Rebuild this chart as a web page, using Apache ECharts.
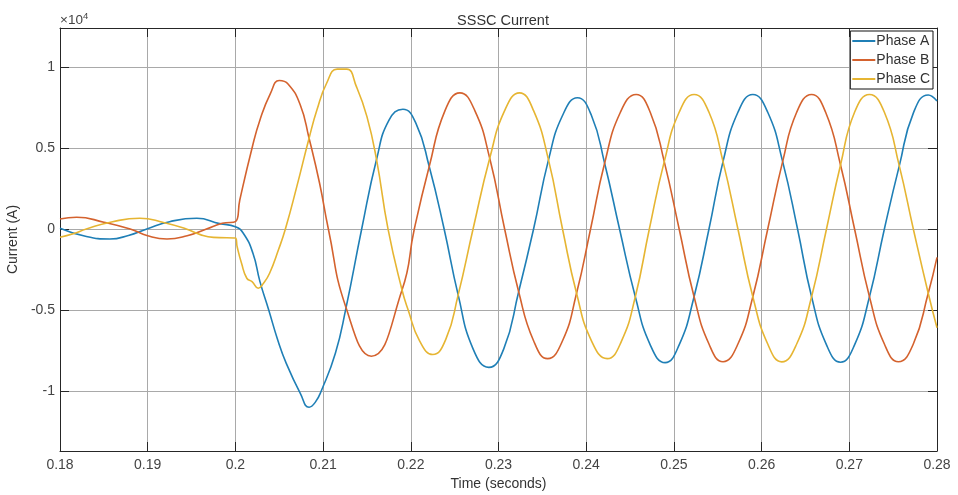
<!DOCTYPE html>
<html>
<head>
<meta charset="utf-8">
<script src="https://cdn.jsdelivr.net/npm/echarts@6/dist/echarts.min.js"></script>
<style>
html,body{margin:0;padding:0;background:#fff;}
#chart{width:958px;height:495px;}
</style>
</head>
<body>
<div id="chart"></div>
<script>
// ---- data (time in seconds, current in A) ----
const xTicks = [0.18,0.19,0.2,0.21,0.22,0.23,0.24,0.25,0.26,0.27,0.28];
const yTicks = [-10000,-5000,0,5000,10000];

const phaseA_t = [0.1800,0.1829,0.1857,0.1878,0.1899,0.1925,0.1956,0.1982,0.2000,0.2009,0.2020,0.2028,0.2038,0.2048,0.2058,0.2074,0.2084,0.2091,0.2098,0.2114,0.2126,0.2144,0.2161,0.2175,0.2191,0.2206,0.2221,0.2238,0.2254,0.2271,0.2289,0.2306,0.2323,0.2340,0.2357,0.2373,0.2390,0.2406,0.2421,0.2438,0.2456,0.2473,0.2490,0.2506,0.2523,0.2540,0.2556,0.2573,0.2590,0.2607,0.2624,0.2641,0.2657,0.2674,0.2690,0.2706,0.2723,0.2740,0.2757,0.2773,0.2790,0.2800];
const phaseA_i = [50,-450,-620,-400,0,450,660,330,140,-265,-1500,-3250,-5000,-6800,-8290,-10140,-11000,-10700,-9980,-7670,-4900,0,4300,6700,7390,6500,3850,0,-4070,-7400,-8540,-7400,-3870,0,4260,7000,8100,7000,4055,0,-4180,-7150,-8250,-7150,-4180,0,4155,7200,8300,7200,4155,0,-4180,-7150,-8220,-7150,-4180,0,3890,7150,8270,7900];

const phaseB_t = [0.1800,0.1819,0.1850,0.1880,0.1900,0.1922,0.1945,0.1967,0.1985,0.2000,0.2005,0.2019,0.2028,0.2040,0.2050,0.2060,0.2074,0.2084,0.2096,0.2106,0.2126,0.2155,0.2190,0.2204,0.2221,0.2239,0.2256,0.2273,0.2290,0.2307,0.2323,0.2340,0.2356,0.2373,0.2389,0.2405,0.2421,0.2439,0.2457,0.2473,0.2489,0.2506,0.2523,0.2540,0.2556,0.2573,0.2590,0.2607,0.2624,0.2640,0.2657,0.2673,0.2690,0.2706,0.2723,0.2740,0.2756,0.2773,0.2790,0.2800];
const phaseB_i = [620,720,420,0,-420,-620,-420,0,350,450,1790,5000,6730,8370,9160,8950,7650,5600,2820,0,-4830,-7850,-3770,0,3850,7300,8400,7300,4360,0,-3870,-6900,-8000,-6900,-3970,0,4055,7200,8300,7200,4155,0,-4180,-7100,-8190,-7100,-4180,0,4155,7200,8300,7200,3950,0,-4180,-7100,-8190,-7100,-3970,-1750];

const phaseC_t = [0.1800,0.1815,0.1830,0.1860,0.1891,0.1918,0.1944,0.1960,0.1975,0.2000,0.2002,0.2007,0.2013,0.2019,0.2026,0.2032,0.2039,0.2049,0.2057,0.2070,0.2084,0.2093,0.2104,0.2116,0.2127,0.2138,0.2150,0.2161,0.2174,0.2190,0.2197,0.2210,0.2225,0.2240,0.2254,0.2271,0.2290,0.2307,0.2324,0.2340,0.2357,0.2373,0.2389,0.2406,0.2424,0.2440,0.2456,0.2472,0.2489,0.2506,0.2523,0.2540,0.2556,0.2573,0.2590,0.2607,0.2623,0.2640,0.2657,0.2674,0.2690,0.2706,0.2723,0.2740,0.2757,0.2773,0.2790,0.2800];
const phaseC_i = [-510,-300,0,450,660,400,0,-350,-520,-560,-1100,-2120,-3040,-3250,-3660,-3350,-2730,-1300,0,2610,5600,7350,8990,9860,9860,8780,6930,4260,0,-3770,-5000,-6900,-7750,-6800,-4070,0,4360,7300,8400,7300,4260,0,-3970,-6900,-8000,-6950,-4180,0,4155,7200,8300,7200,4155,0,-4180,-7100,-8200,-7100,-4180,0,3950,7200,8300,7200,3890,0,-3970,-6100];

const seriesNames = ['Phase A','Phase B','Phase C'];
const colors = ['#1f7fb6','#d4622e','#e6b532'];

const zip = (t, v) => t.map((x, i) => [x, v[i]]);
const font = 'Liberation Sans, Arial, Helvetica, sans-serif';
const axisColor = '#262626';
const gridColor = '#a9a9a9';

const chart = echarts.init(document.getElementById('chart'), null, {renderer: 'canvas'});
const xBase = {
  type: 'value', min: 0.18, max: 0.28, interval: 0.01,
  axisLine: {show: true, onZero: false, lineStyle: {color: axisColor, width: 1}},
  axisTick: {show: true, inside: true, length: 9, lineStyle: {color: axisColor}},
};
const yBase = {
  type: 'value', min: -13700, max: 12400,
  axisLine: {show: true, onZero: false, lineStyle: {color: axisColor, width: 1}},
  axisTick: {show: true, inside: true, length: 9, customValues: yTicks, lineStyle: {color: axisColor}},
};
chart.setOption({
  animation: false,
  backgroundColor: '#fff',
  textStyle: {fontFamily: font},
  grid: {left: 60, right: 21, top: 28, bottom: 44, containLabel: false, outerBoundsMode: 'none'},
  title: {
    text: 'SSSC Current', left: 498, top: 8, textAlign: 'center',
    textStyle: {fontFamily: font, fontSize: 14.5, fontWeight: 'normal', color: '#333'}
  },
  graphic: [{
    type: 'text', left: 60, top: 11,
    style: {
      text: '{a|×10}{b|4}', fill: '#444', font: '12px ' + font,
      rich: {a: {fontSize: 13.5, fill: '#444', fontFamily: font, verticalAlign: 'bottom', lineHeight: 16},
             b: {fontSize: 9.5, fill: '#444', fontFamily: font, verticalAlign: 'top', lineHeight: 10}}
    }
  }],
  legend: {
    data: seriesNames, orient: 'vertical', right: 25, top: 31,
    icon: 'rect', itemWidth: 23, itemHeight: 2, itemGap: 3,
    padding: [2, 3, 2, 2],
    backgroundColor: '#fff', borderColor: '#111', borderWidth: 1, borderRadius: 0,
    textStyle: {fontFamily: font, fontSize: 14, color: '#333', padding: [0, 0, 0, -4], lineHeight: 16}
  },
  xAxis: [
    Object.assign({}, xBase, {
      position: 'bottom',
      name: 'Time (seconds)', nameLocation: 'middle', nameGap: 26,
      nameTextStyle: {fontFamily: font, fontSize: 14, color: '#333'},
      axisLabel: {show: true, margin: 7, fontFamily: font, fontSize: 14, color: '#444',
        formatter: v => String(+v.toFixed(2))},
      splitLine: {show: true, lineStyle: {color: gridColor, width: 1}}
    }),
    Object.assign({}, xBase, {
      position: 'top', axisLabel: {show: false}, splitLine: {show: false}
    })
  ],
  yAxis: [
    Object.assign({}, yBase, {
      position: 'left',
      name: 'Current (A)', nameLocation: 'middle', nameGap: 36, nameRotate: 90,
      nameTextStyle: {fontFamily: font, fontSize: 14, color: '#333'},
      axisLabel: {show: true, margin: 5, fontFamily: font, fontSize: 14, color: '#444',
        customValues: yTicks, formatter: v => String(+(v / 10000).toFixed(2))},
      splitLine: {show: true, lineStyle: {color: gridColor, width: 1}}
    }),
    Object.assign({}, yBase, {
      position: 'right', axisLabel: {show: false}, splitLine: {show: false}
    })
  ],
  series: [
    {name: seriesNames[0], data: zip(phaseA_t, phaseA_i)},
    {name: seriesNames[1], data: zip(phaseB_t, phaseB_i)},
    {name: seriesNames[2], data: zip(phaseC_t, phaseC_i)}
  ].map((s, i) => Object.assign(s, {
    type: 'line', xAxisIndex: 0, yAxisIndex: 0, showSymbol: false,
    smooth: 0.5, clip: true,
    lineStyle: {color: colors[i], width: 1.6}, itemStyle: {color: colors[i]},
    z: 3 + i
  }))
});
</script>
</body>
</html>
